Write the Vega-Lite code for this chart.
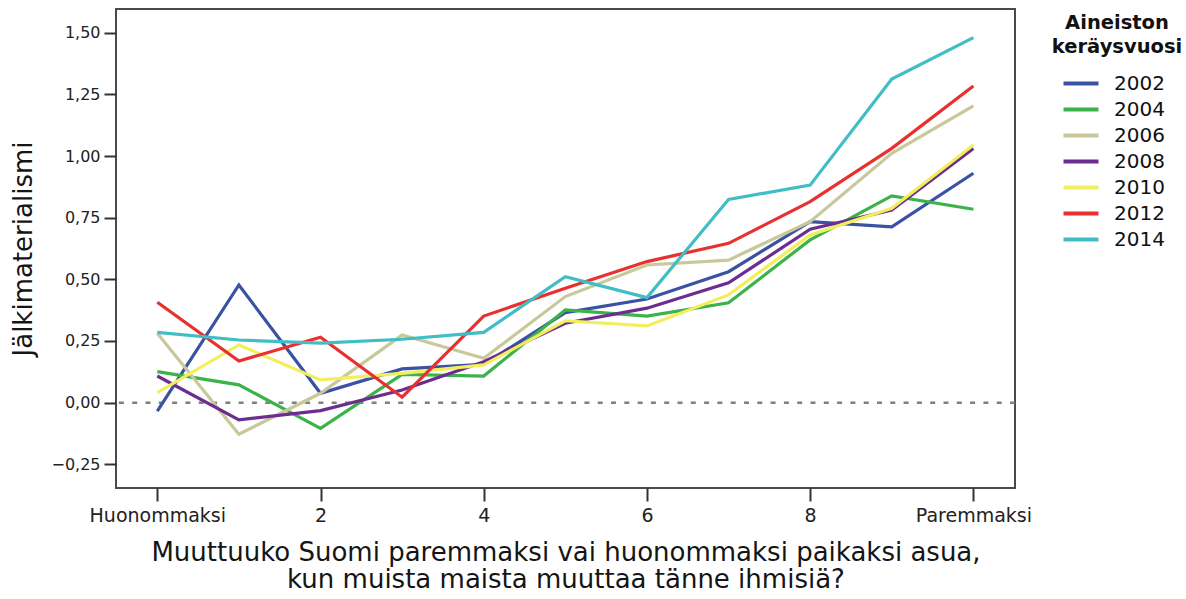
{
  "$schema": "https://vega.github.io/schema/vega-lite/v6.json",
  "autosize": "none",
  "width": 899,
  "height": 479,
  "padding": {"left": 116, "top": 9, "right": 171, "bottom": 111},
  "background": "white",
  "config": {
    "view": {"stroke": "#4a4a4a", "strokeWidth": 2},
    "font": "DejaVu Sans"
  },
  "datasets": {
    "series": [
      {"x": 0, "v": -0.034, "vuosi": "2002"}, {"x": 1, "v": 0.477, "vuosi": "2002"}, {"x": 2, "v": 0.038, "vuosi": "2002"}, {"x": 3, "v": 0.137, "vuosi": "2002"}, {"x": 4, "v": 0.155, "vuosi": "2002"}, {"x": 5, "v": 0.365, "vuosi": "2002"}, {"x": 6, "v": 0.42, "vuosi": "2002"}, {"x": 7, "v": 0.531, "vuosi": "2002"}, {"x": 8, "v": 0.734, "vuosi": "2002"}, {"x": 9, "v": 0.713, "vuosi": "2002"}, {"x": 10, "v": 0.93, "vuosi": "2002"},
      {"x": 0, "v": 0.126, "vuosi": "2004"}, {"x": 1, "v": 0.072, "vuosi": "2004"}, {"x": 2, "v": -0.104, "vuosi": "2004"}, {"x": 3, "v": 0.115, "vuosi": "2004"}, {"x": 4, "v": 0.108, "vuosi": "2004"}, {"x": 5, "v": 0.376, "vuosi": "2004"}, {"x": 6, "v": 0.351, "vuosi": "2004"}, {"x": 7, "v": 0.405, "vuosi": "2004"}, {"x": 8, "v": 0.66, "vuosi": "2004"}, {"x": 9, "v": 0.838, "vuosi": "2004"}, {"x": 10, "v": 0.784, "vuosi": "2004"},
      {"x": 0, "v": 0.281, "vuosi": "2006"}, {"x": 1, "v": -0.128, "vuosi": "2006"}, {"x": 2, "v": 0.038, "vuosi": "2006"}, {"x": 3, "v": 0.274, "vuosi": "2006"}, {"x": 4, "v": 0.18, "vuosi": "2006"}, {"x": 5, "v": 0.43, "vuosi": "2006"}, {"x": 6, "v": 0.558, "vuosi": "2006"}, {"x": 7, "v": 0.578, "vuosi": "2006"}, {"x": 8, "v": 0.734, "vuosi": "2006"}, {"x": 9, "v": 1.011, "vuosi": "2006"}, {"x": 10, "v": 1.203, "vuosi": "2006"},
      {"x": 0, "v": 0.108, "vuosi": "2008"}, {"x": 1, "v": -0.07, "vuosi": "2008"}, {"x": 2, "v": -0.032, "vuosi": "2008"}, {"x": 3, "v": 0.051, "vuosi": "2008"}, {"x": 4, "v": 0.166, "vuosi": "2008"}, {"x": 5, "v": 0.322, "vuosi": "2008"}, {"x": 6, "v": 0.383, "vuosi": "2008"}, {"x": 7, "v": 0.486, "vuosi": "2008"}, {"x": 8, "v": 0.703, "vuosi": "2008"}, {"x": 9, "v": 0.781, "vuosi": "2008"}, {"x": 10, "v": 1.031, "vuosi": "2008"},
      {"x": 0, "v": 0.041, "vuosi": "2010"}, {"x": 1, "v": 0.234, "vuosi": "2010"}, {"x": 2, "v": 0.092, "vuosi": "2010"}, {"x": 3, "v": 0.119, "vuosi": "2010"}, {"x": 4, "v": 0.153, "vuosi": "2010"}, {"x": 5, "v": 0.332, "vuosi": "2010"}, {"x": 6, "v": 0.311, "vuosi": "2010"}, {"x": 7, "v": 0.437, "vuosi": "2010"}, {"x": 8, "v": 0.68, "vuosi": "2010"}, {"x": 9, "v": 0.788, "vuosi": "2010"}, {"x": 10, "v": 1.045, "vuosi": "2010"},
      {"x": 0, "v": 0.407, "vuosi": "2012"}, {"x": 1, "v": 0.169, "vuosi": "2012"}, {"x": 2, "v": 0.265, "vuosi": "2012"}, {"x": 3, "v": 0.022, "vuosi": "2012"}, {"x": 4, "v": 0.351, "vuosi": "2012"}, {"x": 5, "v": 0.464, "vuosi": "2012"}, {"x": 6, "v": 0.572, "vuosi": "2012"}, {"x": 7, "v": 0.646, "vuosi": "2012"}, {"x": 8, "v": 0.815, "vuosi": "2012"}, {"x": 9, "v": 1.031, "vuosi": "2012"}, {"x": 10, "v": 1.284, "vuosi": "2012"},
      {"x": 0, "v": 0.285, "vuosi": "2014"}, {"x": 1, "v": 0.254, "vuosi": "2014"}, {"x": 2, "v": 0.241, "vuosi": "2014"}, {"x": 3, "v": 0.257, "vuosi": "2014"}, {"x": 4, "v": 0.285, "vuosi": "2014"}, {"x": 5, "v": 0.511, "vuosi": "2014"}, {"x": 6, "v": 0.426, "vuosi": "2014"}, {"x": 7, "v": 0.824, "vuosi": "2014"}, {"x": 8, "v": 0.882, "vuosi": "2014"}, {"x": 9, "v": 1.312, "vuosi": "2014"}, {"x": 10, "v": 1.48, "vuosi": "2014"}
    ],
    "ref": [{"y": 0}]
  },
  "layer": [
    {
      "data": {"name": "ref"},
      "mark": {"type": "rule", "color": "#808080", "strokeWidth": 2.5, "strokeDash": [5, 8.3]},
      "encoding": {"y": {"field": "y", "type": "quantitative"}}
    },
    {
      "data": {"name": "series"},
      "mark": {"type": "line", "strokeWidth": 3.2, "clip": true},
      "encoding": {
        "x": {
          "field": "x", "type": "quantitative",
          "scale": {"domain": [-0.506, 10.51], "nice": false, "zero": false},
          "axis": {
            "values": [0, 2, 4, 6, 8, 10],
            "labelExpr": "datum.value == 0 ? 'Huonommaksi' : datum.value == 10 ? 'Paremmaksi' : datum.label",
            "title": ["Muuttuuko Suomi paremmaksi vai huonommaksi paikaksi asua,", "kun muista maista muuttaa tänne ihmisiä?"],
            "titleFont": "DejaVu Sans",
            "titleFontSize": 26,
            "titleFontWeight": "normal",
            "titleColor": "#151515",
            "titleLineHeight": 27.5,
            "titlePadding": 14,
            "labelFont": "DejaVu Sans",
            "labelFontSize": 19,
            "labelColor": "#222222",
            "labelPadding": 5,
            "tickSize": 13,
            "tickWidth": 2,
            "tickColor": "#333333",
            "domain": false,
            "grid": false
          }
        },
        "y": {
          "field": "v", "type": "quantitative",
          "scale": {"domain": [-0.346, 1.596], "nice": false, "zero": false},
          "axis": {
            "values": [-0.25, 0, 0.25, 0.5, 0.75, 1, 1.25, 1.5],
            "labelExpr": "replace(format(datum.value, '.2f'), '.', ',')",
            "title": "Jälkimaterialismi",
            "titleFont": "DejaVu Sans",
            "titleFontSize": 26,
            "titleFontWeight": "normal",
            "titleColor": "#151515",
            "titlePadding": 14,
            "labelFont": "DejaVu Sans",
            "labelFontSize": 16,
            "labelColor": "#222222",
            "labelPadding": 4,
            "tickSize": 12,
            "tickWidth": 2,
            "tickColor": "#333333",
            "domain": false,
            "grid": false
          }
        },
        "color": {
          "field": "vuosi", "type": "nominal",
          "scale": {
            "domain": ["2002", "2004", "2006", "2008", "2010", "2012", "2014"],
            "range": ["#3a52a3", "#3cb34a", "#c9c89b", "#6b2d8f", "#f2ef5e", "#e8312f", "#41bdc6"]
          },
          "legend": {
            "title": ["Aineiston", "keräysvuosi"],
            "orient": "none",
            "legendX": 936,
            "legendY": 5,
            "titleFont": "DejaVu Sans",
            "titleFontSize": 19.5,
            "titleFontWeight": "bold",
            "titleColor": "#111111",
            "titleLineHeight": 24,
            "titleAlign": "center",
            "titleAnchor": "middle",
            "titlePadding": 14,
            "labelFont": "DejaVu Sans",
            "labelFontSize": 20,
            "labelColor": "#111111",
            "labelOffset": 21,
            "symbolType": "M-1.75,0L1.75,0",
            "symbolSize": 400,
            "symbolStrokeWidth": 4,
            "symbolFillColor": "transparent",
            "rowPadding": 4
          }
        }
      }
    }
  ]
}
